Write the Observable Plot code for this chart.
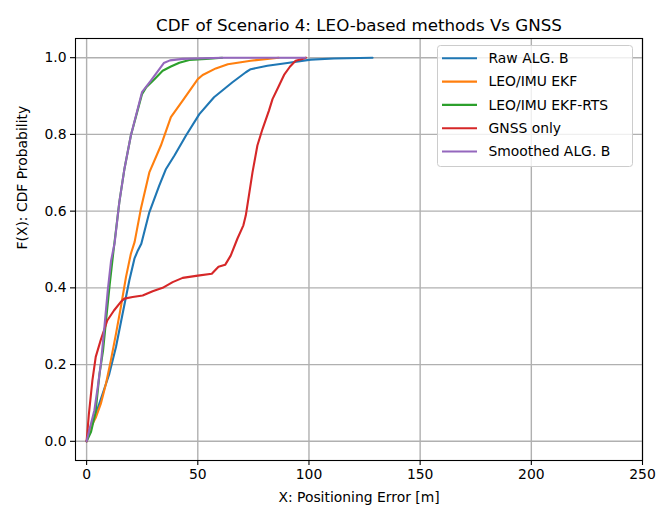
<!DOCTYPE html>
<html>
<head>
<meta charset="utf-8">
<script src="https://cdn.jsdelivr.net/npm/d3@7"></script>
<script src="https://cdn.jsdelivr.net/npm/@observablehq/plot@0.6"></script>
<style>
  html, body { margin: 0; padding: 0; background: white; }
</style>
</head>
<body>
<div id="chart"></div>
<script>
// Empirical CDFs of positioning error [m] for each method
const seriesNames = ["Raw ALG. B", "LEO/IMU EKF", "LEO/IMU EKF-RTS", "GNSS only", "Smoothed ALG. B"];
const seriesColors = ["#1f77b4", "#ff7f0e", "#2ca02c", "#d62728", "#9467bd"];

const rawAlgBErr = [0, 1.2, 4.2, 7.2, 10.2, 13.2, 16.2, 19.2, 21.5, 23.0, 24.6, 28.2, 32.7, 35.7, 39.5, 44.7, 50.7, 57.3, 65.6, 71.6, 73.8, 81.3, 90.3, 100.8, 111.3, 128.6];
const rawAlgBCdf = [0, 0.029, 0.072, 0.124, 0.176, 0.246, 0.333, 0.419, 0.476, 0.497, 0.515, 0.597, 0.667, 0.710, 0.745, 0.797, 0.853, 0.897, 0.936, 0.962, 0.970, 0.979, 0.986, 0.995, 0.998, 1.0];

const ekfErr = [0, 1.9, 4.2, 6.4, 8.7, 10.9, 13.2, 15.4, 17.7, 19.9, 21.6, 24.4, 28.2, 33.4, 37.9, 43.2, 50.0, 52.2, 58.1, 63.5, 73.8, 86.4];
const ekfCdf = [0, 0.037, 0.063, 0.098, 0.150, 0.211, 0.280, 0.350, 0.428, 0.489, 0.520, 0.606, 0.701, 0.771, 0.845, 0.888, 0.944, 0.955, 0.972, 0.983, 0.992, 1.0];

const ekfRtsErr = [0, 2.0, 4.0, 5.8, 7.4, 8.9, 10.4, 12.1, 14.7, 17.0, 19.9, 24.9, 26.7, 30.5, 34.2, 37.9, 41.7, 46.2, 53.7, 61.0];
const ekfRtsCdf = [0, 0.025, 0.075, 0.176, 0.237, 0.324, 0.410, 0.497, 0.623, 0.710, 0.797, 0.905, 0.922, 0.944, 0.966, 0.977, 0.987, 0.994, 0.997, 1.0];

const gnssErr = [0, 1.0, 2.6, 4.1, 6.3, 9.3, 12.3, 15.3, 17.0, 20.7, 25.2, 29.7, 34.2, 38.7, 43.2, 50.0, 56.3, 59.3, 62.3, 64.8, 67.8, 70.5, 71.6, 73.0, 74.6, 76.8, 79.1, 82.0, 83.6, 86.5, 88.8, 91.5, 94.0, 97.8, 98.6];
const gnssCdf = [0, 0.070, 0.159, 0.220, 0.263, 0.315, 0.341, 0.363, 0.372, 0.376, 0.380, 0.391, 0.400, 0.415, 0.426, 0.432, 0.437, 0.455, 0.460, 0.484, 0.528, 0.563, 0.589, 0.641, 0.701, 0.771, 0.814, 0.862, 0.892, 0.927, 0.955, 0.977, 0.992, 0.998, 1.0];

const smoothedErr = [0, 1.2, 3.5, 5.0, 6.4, 8.0, 9.5, 11.0, 12.6, 14.7, 17.0, 19.9, 24.9, 28.9, 34.7, 37.5, 43.2, 61.2, 98.3];
const smoothedCdf = [0, 0.029, 0.081, 0.141, 0.202, 0.298, 0.393, 0.471, 0.517, 0.623, 0.710, 0.797, 0.910, 0.940, 0.986, 0.993, 0.997, 1.0, 1.0];

const xTicks = [0, 50, 100, 150, 200, 250];
const yTicks = [0, 0.2, 0.4, 0.6, 0.8, 1.0];

const titleText = "CDF of Scenario 4: LEO-based methods Vs GNSS";
const xLabel = "X: Positioning Error [m]";
const yLabel = "F(X): CDF Probability";

// Long-form table for the line marks
const columns = [
  [rawAlgBErr, rawAlgBCdf],
  [ekfErr, ekfCdf],
  [ekfRtsErr, ekfRtsCdf],
  [gnssErr, gnssCdf],
  [smoothedErr, smoothedCdf]
];
const rows = columns.flatMap(([errs, cdfs], i) =>
  errs.map((e, j) => ({series: seriesNames[i], err: e, cdf: cdfs[j]}))
);

const font = "DejaVu Sans, sans-serif";
const gridStyle = {stroke: "#b0b0b0", strokeOpacity: 1, strokeWidth: 1.4};

const chart = Plot.plot({
  width: 670,
  height: 510,
  marginLeft: 75,
  marginRight: 28,
  marginTop: 38,
  marginBottom: 50,
  style: {fontFamily: font, fontSize: "13.9px", color: "black", background: "white"},
  x: {domain: [-5, 250]},
  y: {domain: [-0.05, 1.05]},
  color: {domain: seriesNames, range: seriesColors},
  marks: [
    Plot.gridX(xTicks, gridStyle),
    Plot.gridY(yTicks, gridStyle),
    Plot.line(rows, {x: "err", y: "cdf", z: "series", stroke: "series", strokeWidth: 2.1, strokeLinejoin: "round"}),
    Plot.frame({stroke: "black", strokeWidth: 1.1}),
    Plot.axisX(xTicks, {tickSize: 5, tickPadding: 4, tickFormat: d => String(d), label: null, fontSize: 13.9, strokeWidth: 1.1}),
    Plot.axisY(yTicks, {tickSize: 5, tickPadding: 4, tickFormat: d3.format(".1f"), label: null, fontSize: 13.9, strokeWidth: 1.1}),
    Plot.text([titleText], {frameAnchor: "top", dy: -8, lineAnchor: "bottom", fontSize: 16.7}),
    Plot.text([xLabel], {frameAnchor: "bottom", dy: 37, lineAnchor: "middle", fontSize: 13.9}),
    Plot.text([yLabel], {frameAnchor: "left", dx: -53, rotate: -90, lineAnchor: "middle", fontSize: 13.9})
  ]
});

document.getElementById("chart").appendChild(chart);

// Legend box in the upper-right corner of the axes
const svg = d3.select(chart);
const lg = svg.append("g").attr("transform", "translate(437.5,45.5)");
lg.append("rect")
  .attr("width", 195).attr("height", 121).attr("rx", 3)
  .attr("fill", "white").attr("fill-opacity", 0.8)
  .attr("stroke", "#cccccc").attr("stroke-width", 1);
seriesNames.forEach((name, i) => {
  const y = 12.8 + i * 23.3;
  lg.append("line")
    .attr("x1", 4.5).attr("x2", 39.5).attr("y1", y).attr("y2", y)
    .attr("stroke", seriesColors[i]).attr("stroke-width", 2.1);
  lg.append("text")
    .attr("x", 51).attr("y", y).attr("dy", "0.35em")
    .attr("text-anchor", "start")
    .attr("font-family", font).attr("font-size", 13.9).attr("fill", "black")
    .text(name);
});
</script>
</body>
</html>
